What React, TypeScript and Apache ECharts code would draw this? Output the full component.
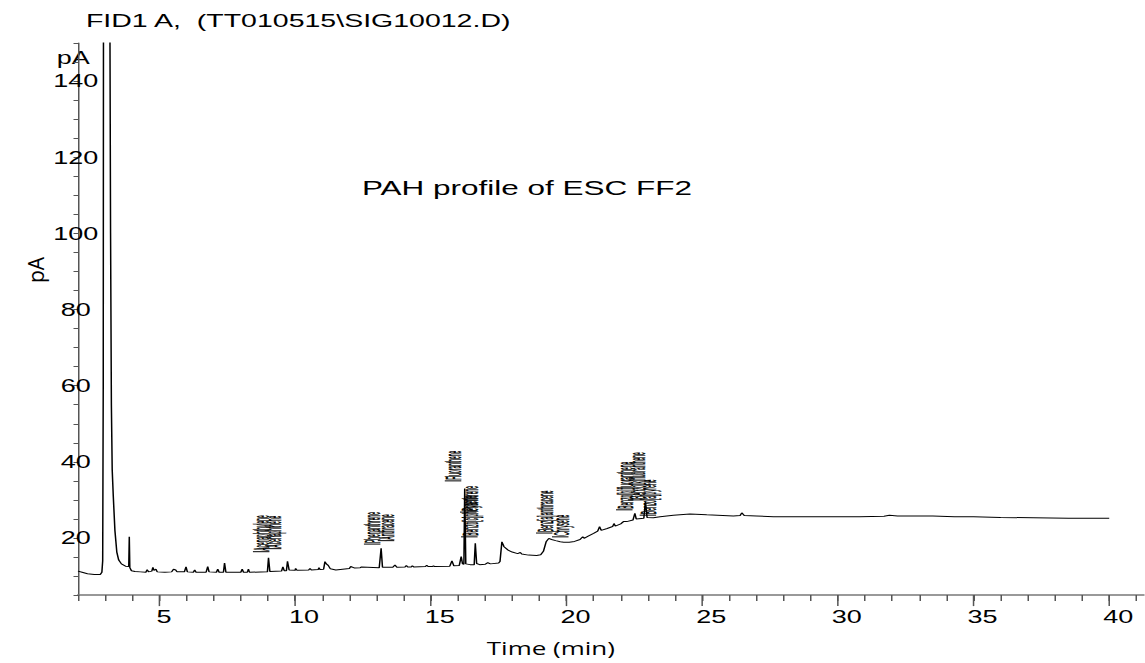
import React, { useEffect, useRef } from "react";
import * as echarts from "echarts";

// ---- data (retention time in min, detector signal in pA) ----
const TIME: number[] = [
  2.0, 2.15, 2.35, 2.6, 2.82, 2.88, 2.91, 2.93, 2.94, 3.17, 3.2, 3.23, 3.26, 3.3, 3.36, 3.43, 3.5, 3.6, 3.75, 3.87, 3.89, 3.91, 3.97, 4.1,
  4.3, 4.5, 4.55, 4.6, 4.72, 4.76, 4.8, 4.87, 4.92, 5.2, 5.45, 5.52, 5.6, 5.65, 5.92, 5.98, 6.03, 6.25, 6.3, 6.35, 6.72, 6.78, 6.83,
  7.1, 7.15, 7.2, 7.36, 7.4, 7.45, 8.0, 8.05, 8.1, 8.24, 8.28, 8.32, 8.98, 9.02, 9.07, 9.5, 9.55, 9.6, 9.68, 9.72, 9.78,
  10.0, 10.02, 10.07, 10.5, 10.55, 10.6, 10.85, 10.88, 10.92, 11.05, 11.1, 11.15, 11.22, 11.3, 11.5, 12.0, 12.05, 12.2, 12.4, 12.45,
  13.1, 13.17, 13.22, 13.6, 13.68, 13.75, 14.05, 14.1, 14.15, 14.28, 14.32, 14.37, 14.8, 14.85, 14.9, 15.05, 15.1, 15.15,
  15.7, 15.78, 15.85, 16.05, 16.12, 16.17, 16.22, 16.25, 16.29, 16.45, 16.6, 16.64, 16.69, 16.8, 17.0, 17.1, 17.2, 17.5, 17.55,
  17.62, 17.7, 17.85, 18.0, 18.2, 18.3, 18.35, 18.6, 18.9, 19.05, 19.15, 19.25, 19.35, 19.45, 19.6, 19.77, 19.9, 20.1, 20.3,
  20.5, 20.6, 20.65, 20.8, 21.0, 21.15, 21.22, 21.28, 21.5, 21.7, 21.75, 21.8, 22.0, 22.1, 22.22, 22.45, 22.52, 22.57, 22.85,
  22.91, 22.97, 23.2, 23.45, 23.94, 24.55, 25.17, 26.15, 26.4, 26.46, 26.55, 27.0, 27.63, 29.0, 30.8, 31.7, 31.9, 32.2, 33.5,
  34.3, 35.0, 36.0, 37.2, 38.5, 40.0,
];
const SIGNAL: number[] = [
  11.3, 11.0, 10.6, 10.4, 10.4, 11.0, 14, 60, 170, 170, 100, 55, 38, 31, 22, 16.3, 14.2, 13.2, 12.6, 12.5, 20.3, 12.2, 11.4, 11.2,
  11.1, 11.0, 11.7, 11.1, 11.3, 12.3, 11.5, 11.8, 11.1, 11.0, 11.1, 11.8, 11.6, 11.1, 11.1, 12.4, 11.1, 11.0, 11.6, 11.0, 11.0, 12.5, 11.1,
  11.0, 11.8, 11.0, 11.0, 13.4, 11.0, 11.0, 11.8, 11.0, 11.0, 11.8, 11.0, 11.1, 14.8, 11.2, 11.3, 12.4, 11.4, 11.4, 13.9, 11.6,
  11.5, 12.0, 11.5, 11.6, 12.0, 11.6, 11.7, 12.2, 11.7, 11.8, 13.8, 13.2, 12.8, 11.9, 11.6, 12.0, 12.5, 12.1, 12.2, 12.4,
  12.2, 17.3, 12.3, 12.3, 12.9, 12.3, 12.4, 12.8, 12.4, 12.4, 12.7, 12.4, 12.5, 12.8, 12.5, 12.5, 12.7, 12.5,
  12.6, 14.0, 12.7, 12.8, 15.1, 13.2, 13.1, 33.0, 13.2, 13.0, 13.0, 18.6, 13.3, 13.0, 13.1, 13.5, 13.2, 13.4, 13.8,
  19.0, 17.7, 16.8, 16.3, 15.9, 16.2, 15.8, 15.5, 15.4, 15.6, 16.5, 19.0, 19.9, 19.6, 19.3, 19.0, 18.9, 18.9, 19.1,
  19.6, 20.3, 19.9, 20.5, 21.2, 21.8, 23.0, 22.0, 22.5, 23.0, 23.8, 23.1, 23.7, 24.3, 24.3, 24.7, 26.5, 25.0, 25.2,
  29.5, 25.4, 25.3, 25.6, 26.0, 26.3, 26.1, 25.8, 25.9, 26.6, 25.9, 25.8, 25.6, 25.6, 25.6, 25.7, 25.95, 25.8, 25.8,
  25.6, 25.6, 25.4, 25.3, 25.2, 25.2,
];

const X_TICK_LABELS: number[] = [5, 10, 15, 20, 25, 30, 35, 40];
const Y_TICK_LABELS: number[] = [20, 40, 60, 80, 100, 120, 140];

// peak annotations (name, retention time, label base height in pA)
const PEAK_NAMES: string[] = [
  "Acenaphthylene", "Acenaphthene",
  "Phenanthrene", "Anthracene",
  "Fluoranthene", "Pyrene", "Benzo[c]phenanthrene",
  "Benz[a]anthracene", "Chrysene",
  "Benzo[b]fluoranthene", "Benzo[k]fluoranthene", "Benzo[a]pyrene",
];
const PEAK_TIMES: number[] = [8.75, 9.19, 12.84, 13.35, 15.82, 16.38, 16.42, 19.18, 19.77, 22.13, 22.57, 23.0];
const PEAK_LABEL_BASE: number[] = [16.4, 17.2, 18.4, 19.3, 35.0, 26.8, 20.3, 21.3, 20.3, 27.4, 30.0, 26.0];

// ---- layout ----
const STRETCH = 1.5;
const W = 1145 / STRETCH;
const H = 663;
const X_MIN = 2;
const X_MAX = 41.3;
const Y_MIN = 5;
const Y_MAX = 150;
const ARIAL = "'Liberation Sans', Arial, sans-serif";
const SANS = "'Open Sans', 'Noto Sans', sans-serif";

function measure(text: string, font: string): number {
  const ctx = document.createElement("canvas").getContext("2d");
  if (!ctx) return text.length * 8;
  ctx.font = font;
  return ctx.measureText(text).width;
}

export default function App() {
  const ref = useRef<HTMLDivElement>(null);

  useEffect(() => {
    if (!ref.current) return;
    const chart = echarts.init(ref.current, null, { renderer: "svg" });

    const trace = TIME.map((t, i) => [t, SIGNAL[i]]);
    const labels = PEAK_TIMES.map((t, i) => [t, PEAK_LABEL_BASE[i]]);
    const majors = X_TICK_LABELS.map((t) => [t, Y_MIN]);

    const timeFont = 18.6;
    const timeScale = (128 / STRETCH) / measure("Time (min)", `${timeFont}px 'Open Sans'`);

    chart.setOption({
      animation: false,
      backgroundColor: "#fff",
      grid: { left: 52, right: 0, top: 43, bottom: H - 595.1 },
      xAxis: {
        type: "value",
        min: X_MIN,
        max: X_MAX,
        interval: 1,
        splitLine: { show: false },
        axisLine: { lineStyle: { color: "#777", width: 1.6 } },
        axisTick: { length: 6, lineStyle: { color: "#555", width: 1 } },
        axisLabel: {
          margin: 13,
          color: "#000",
          fontSize: 18,
          fontFamily: ARIAL,
          showMaxLabel: false,
          formatter: (v: number) =>
            X_TICK_LABELS.includes(v) ? (v < 10 ? `{a|${v}}` : `{b|${v}}`) : "",
          rich: {
            a: { fontSize: 18, fontFamily: ARIAL, color: "#000", padding: [0, 0, 0, 6] },
            b: { fontSize: 18, fontFamily: ARIAL, color: "#000", padding: [0, 0, 0, 12] },
          },
        },
      },
      yAxis: {
        type: "value",
        min: Y_MIN,
        max: Y_MAX,
        interval: 5,
        splitLine: { show: false },
        axisLine: { show: true, lineStyle: { color: "#555", width: 1 } },
        axisTick: { show: true, length: 3, lineStyle: { color: "#555", width: 1 } },
        axisLabel: {
          margin: 1.5,
          align: "center",
          color: "#000",
          fontSize: 18,
          fontFamily: ARIAL,
          formatter: (v: number) => (Y_TICK_LABELS.includes(v) ? String(v) : ""),
        },
      },
      series: [
        {
          type: "line",
          data: trace,
          showSymbol: false,
          symbol: "none",
          clip: true,
          lineStyle: { color: "#000", width: 1 },
          silent: true,
          z: 3,
        },
        {
          type: "custom",
          data: majors,
          encode: { x: 0, y: 1 },
          clip: false,
          silent: true,
          z: 4,
          renderItem: (params: any, api: any) => {
            const p = api.coord([api.value(0), Y_MIN]);
            return {
              type: "line",
              shape: { x1: p[0], y1: p[1], x2: p[0], y2: p[1] + 11 },
              style: { stroke: "#555", lineWidth: 1 },
            };
          },
        },
        {
          type: "custom",
          data: labels,
          encode: { x: 0, y: 1 },
          clip: false,
          silent: true,
          z: 5,
          renderItem: (params: any, api: any) => {
            const p = api.coord([api.value(0), api.value(1)]);
            const name = PEAK_NAMES[params.dataIndex];
            return {
              type: "group",
              children: [
                {
                  type: "text",
                  x: p[0],
                  y: p[1] - 1,
                  rotation: Math.PI / 2,
                  scaleX: 0.33,
                  scaleY: 1,
                  style: {
                    text: name,
                    fontSize: 15,
                    fontFamily: ARIAL,
                    fill: "#000",
                    stroke: "#000",
                    lineWidth: 0.4,
                    align: "left",
                    verticalAlign: "middle",
                  },
                },
                {
                  type: "line",
                  shape: { x1: p[0] - 5.5, y1: p[1], x2: p[0] + 5.5, y2: p[1] },
                  style: { stroke: "#000", lineWidth: 1 },
                },
              ],
            };
          },
        },
      ],
      graphic: [
        {
          type: "text",
          x: 57.3,
          y: 20,
          style: {
            text: "FID1 A,  (TT010515\\SIG10012.D)",
            fontSize: 19,
            fontFamily: ARIAL,
            fill: "#000",
            align: "left",
            verticalAlign: "middle",
          },
        },
        {
          type: "text",
          x: 37.8,
          y: 58,
          style: {
            text: "pA",
            fontSize: 18,
            fontFamily: ARIAL,
            fill: "#000",
            align: "left",
            verticalAlign: "middle",
          },
        },
        {
          type: "text",
          x: 241.3,
          y: 188,
          style: {
            text: "PAH profile of ESC FF2",
            fontSize: 21,
            fontFamily: ARIAL,
            fill: "#000",
            align: "left",
            verticalAlign: "middle",
          },
        },
        {
          type: "text",
          x: 367.2,
          y: 648,
          scaleX: timeScale,
          style: {
            text: "Time (min)",
            fontSize: timeFont,
            fontFamily: SANS,
            fill: "#000",
            align: "center",
            verticalAlign: "middle",
          },
        },
        {
          type: "text",
          x: 24,
          y: 270,
          rotation: Math.PI / 2,
          scaleY: 0.67,
          style: {
            text: "pA",
            fontSize: 21,
            fontFamily: SANS,
            fill: "#000",
            align: "center",
            verticalAlign: "middle",
          },
        },
      ],
    });

    return () => chart.dispose();
  }, []);

  return (
    <div
      ref={ref}
      style={{
        position: "absolute",
        left: 0,
        top: 0,
        width: W,
        height: H,
        transform: `scaleX(${STRETCH})`,
        transformOrigin: "0 0",
        background: "#fff",
      }}
    />
  );
}
